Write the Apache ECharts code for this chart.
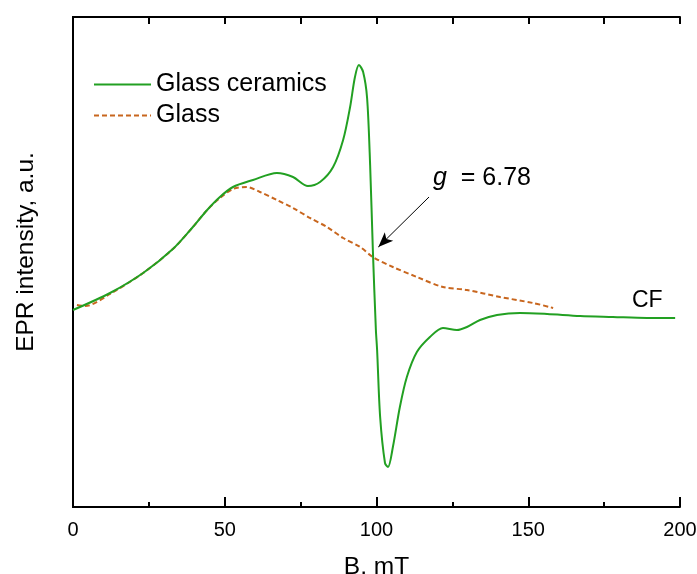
<!DOCTYPE html>
<html lang="en">
<head>
    <meta charset="utf-8">
    <title>EPR spectra</title>
    <script src="https://cdn.jsdelivr.net/npm/echarts@6/dist/echarts.min.js"></script>
    <style>
        html, body { margin: 0; padding: 0; background: #fff; }
        #main { width: 697px; height: 574px; }
    </style>
</head>
<body>
    <div id="main"></div>
    <script type="text/javascript">
        // magnetic field, mT / intensity (arbitrary units)
        var ceramicsB = [0, 12.2, 23.1, 32.9, 39.5, 44.2, 48.4, 52.7, 59.3, 67.2, 72.5, 77.4, 81.4, 85.7, 89.0,
            91.3, 92.9, 94.2, 95.6, 96.9, 97.9, 98.8, 99.8, 100.2, 101.2, 102.8, 103.8, 105.4, 107.7, 110.0,
            113.3, 117.6, 121.9, 126.5, 129.8, 134.1, 139.7, 147.3, 156.2, 167.1, 177.9, 189.1, 198.4];
        var ceramicsI = [197, 214, 234, 258, 280, 297, 310, 320, 327, 334, 330, 321, 325, 340, 367,
            400, 430, 442, 435, 409, 342, 257, 177, 157, 90, 44, 40, 60, 100, 130,
            155, 170, 179, 177, 180, 187, 192, 194, 193, 191, 190, 189, 189];

        var glassB = [1.3, 4, 12.2, 23.1, 32.9, 39.5, 44.2, 48.4, 52.7, 57.3, 61.6, 67.2, 72.5, 78.1, 83.7,
            89.0, 94.6, 98.8, 105.4, 113.3, 121.9, 129.8, 140.7, 151.6, 158.2];
        var glassI = [202, 201, 213, 234, 258, 280, 297, 309, 318, 320, 315, 307, 299, 289, 280,
            269, 260, 250, 240, 230, 220, 217, 210, 204, 199];

        var xTicks = [0, 50, 100, 150, 200];

        function pairs(xs, ys) {
            return xs.map(function (x, i) { return [x, ys[i]]; });
        }

        var font = 'Arial, "Liberation Sans", sans-serif';
        var green = '#22a022';
        var orange = '#c8661e';

        var myChart = echarts.init(document.getElementById('main'));
        myChart.setOption({
            animation: false,
            backgroundColor: '#fff',
            textStyle: { fontFamily: font },
            grid: { left: 73, right: 17, top: 17, bottom: 67, containLabel: false, outerBoundsMode: 'none' },
            legend: {
                orient: 'vertical',
                left: 88,
                top: 67,
                itemWidth: 57,
                itemHeight: 14,
                itemGap: 6,
                itemStyle: { opacity: 0 },
                textStyle: { fontSize: 25, color: '#000', fontFamily: font },
                data: ['Glass ceramics', 'Glass']
            },
            xAxis: [
                {
                    type: 'value',
                    position: 'bottom',
                    min: xTicks[0],
                    max: xTicks[xTicks.length - 1],
                    interval: 50,
                    name: 'B, mT',
                    nameLocation: 'middle',
                    nameGap: 48,
                    nameTextStyle: { fontSize: 24.5, color: '#000', fontFamily: font },
                    axisLine: { show: true, onZero: false, lineStyle: { color: '#000', width: 2 } },
                    axisTick: { inside: true, length: 10, lineStyle: { color: '#000', width: 2 } },
                    minorTick: { show: true, splitNumber: 2, length: 5, lineStyle: { color: '#000', width: 2 } },
                    axisLabel: { fontSize: 20, color: '#000', margin: 13, fontFamily: font },
                    splitLine: { show: false }
                },
                {
                    type: 'value',
                    position: 'top',
                    min: 0,
                    max: 200,
                    interval: 25,
                    axisLine: { show: true, onZero: false, lineStyle: { color: '#000', width: 2 } },
                    axisTick: { inside: true, length: 7, lineStyle: { color: '#000', width: 2 } },
                    axisLabel: { show: false },
                    splitLine: { show: false }
                }
            ],
            yAxis: [
                {
                    type: 'value',
                    position: 'left',
                    min: 0,
                    max: 490,
                    axisLine: { show: true, lineStyle: { color: '#000', width: 2 } },
                    axisTick: { show: false },
                    axisLabel: { show: false },
                    splitLine: { show: false }
                },
                {
                    type: 'value',
                    position: 'right',
                    min: 0,
                    max: 490,
                    axisLine: { show: true, lineStyle: { color: '#000', width: 2 } },
                    axisTick: { show: false },
                    axisLabel: { show: false },
                    splitLine: { show: false }
                }
            ],
            series: [
                {
                    name: 'Glass',
                    type: 'line',
                    data: pairs(glassB, glassI),
                    symbol: 'none',
                    smooth: 0.3,
                    itemStyle: { color: orange },
                    lineStyle: { color: orange, width: 2, type: [5, 3] },
                    z: 2
                },
                {
                    name: 'Glass ceramics',
                    type: 'line',
                    data: pairs(ceramicsB, ceramicsI),
                    symbol: 'none',
                    smooth: 0.3,
                    itemStyle: { color: green },
                    lineStyle: { color: green, width: 2 },
                    z: 3,
                    markLine: {
                        silent: true,
                        symbol: ['none', 'arrow'],
                        symbolSize: [9, 15],
                        label: { show: false },
                        lineStyle: { color: '#000', width: 1, type: 'solid' },
                        data: [[{ coord: [117.3, 310] }, { coord: [100.6, 260] }]]
                    }
                }
            ],
            graphic: [
                {
                    type: 'text',
                    left: 433,
                    top: 166,
                    style: {
                        text: '{i|g}  = 6.78',
                        font: '25px ' + font,
                        fill: '#000',
                        rich: {
                            i: { fontStyle: 'italic', fontSize: 25, fontFamily: font }
                        }
                    }
                },
                {
                    type: 'text',
                    left: 632,
                    top: 289,
                    style: { text: 'CF', font: '23px ' + font, fill: '#000' }
                },
                {
                    type: 'text',
                    x: 26,
                    y: 252,
                    rotation: Math.PI / 2,
                    style: {
                        text: 'EPR intensity, a.u.',
                        font: '24.5px ' + font,
                        fill: '#000',
                        align: 'center',
                        verticalAlign: 'middle'
                    }
                }
            ]
        });
    </script>
</body>
</html>
